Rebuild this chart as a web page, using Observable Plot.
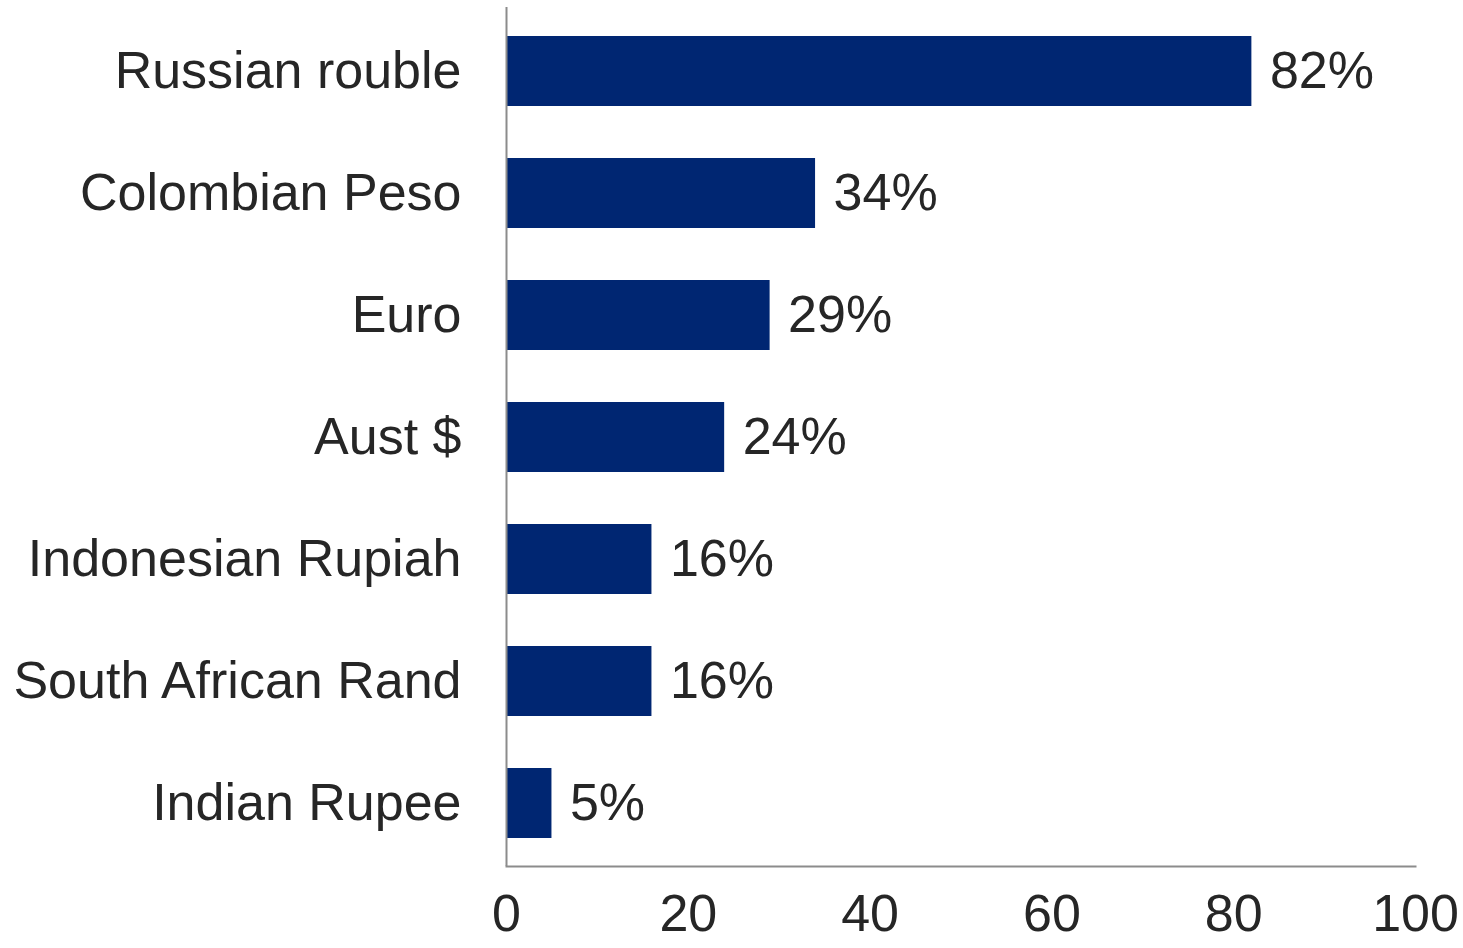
<!DOCTYPE html>
<html>
<head>
<meta charset="utf-8">
<script src="https://cdn.jsdelivr.net/npm/d3@7"></script>
<script src="https://cdn.jsdelivr.net/npm/@observablehq/plot@0.6"></script>
<style>
  html, body { margin: 0; padding: 0; background: #fff; }
  svg { display: block; }
</style>
</head>
<body>
<div id="chart"></div>
<script>
const currencies = ["Russian rouble", "Colombian Peso", "Euro", "Aust $", "Indonesian Rupiah", "South African Rand", "Indian Rupee"];
const values = [82, 34, 29, 24, 16, 16, 5];
const xTicks = [0, 20, 40, 60, 80, 100];

const data = currencies.map((c, i) => ({currency: c, value: values[i]}));

const font = "'Liberation Sans', Arial, sans-serif";
const textColor = "#262626";
const barColor = "#002672";
const axisColor = "#8c8c8c";

const chart = Plot.plot({
  width: 1463,
  height: 948,
  marginLeft: 506,
  marginRight: 48,
  marginTop: 7,
  marginBottom: 82,
  style: {fontFamily: font, fontSize: "52px", color: textColor, background: "#fff"},
  x: {domain: [0, 100], ticks: xTicks},
  y: {domain: currencies, paddingInner: 0.43, paddingOuter: 0.22},
  marks: [
    Plot.barX(data, {x: "value", y: "currency", fill: barColor}),
    Plot.text(data, {x: "value", y: "currency", text: d => d.value + "%", textAnchor: "start", dx: 18, fill: textColor, fontSize: 52}),
    Plot.ruleX([0], {stroke: axisColor, strokeWidth: 2}),
    Plot.frame({anchor: "bottom", stroke: axisColor, strokeWidth: 2}),
    Plot.axisX({ticks: xTicks, tickSize: 0, tickPadding: 28, fill: textColor, fontSize: 52, label: null}),
    Plot.axisY({tickSize: 0, tickPadding: 45, fill: textColor, fontSize: 52, label: null})
  ]
});
document.getElementById("chart").appendChild(chart);
</script>
</body>
</html>
